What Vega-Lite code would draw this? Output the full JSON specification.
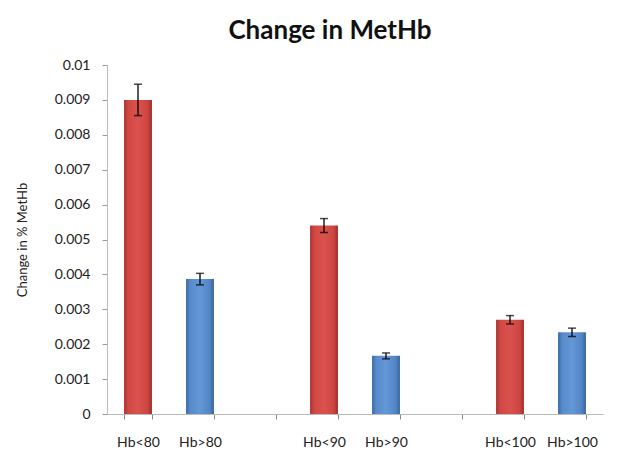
{
  "$schema": "https://vega.github.io/schema/vega-lite/v6.json",
  "width": 496,
  "height": 349,
  "padding": {"left": 16, "top": 18, "right": 30, "bottom": 4},
  "title": {
    "text": "Change in MetHb",
    "font": "Lato",
    "fontSize": 26,
    "color": "#111111",
    "offset": 14,
    "dx": -25
  },
  "data": {
    "values": [
      {"cat": "Hb<80", "side": "low", "val": 0.009, "lo": 0.00855, "hi": 0.00945},
      {"cat": "Hb>80", "side": "high", "val": 0.00387, "lo": 0.0037, "hi": 0.00403},
      {"cat": "Hb<90", "side": "low", "val": 0.0054, "lo": 0.0052, "hi": 0.0056},
      {"cat": "Hb>90", "side": "high", "val": 0.00167, "lo": 0.00158, "hi": 0.00175},
      {"cat": "Hb<100", "side": "low", "val": 0.0027, "lo": 0.00258, "hi": 0.00282},
      {"cat": "Hb>100", "side": "high", "val": 0.00234, "lo": 0.00222, "hi": 0.00246}
    ]
  },
  "encoding": {
    "x": {
      "field": "cat",
      "type": "nominal",
      "scale": {
        "domain": ["Hb<80", "Hb>80", " ", "Hb<90", "Hb>90", "  ", "Hb<100", "Hb>100"],
        "paddingInner": 0.55,
        "paddingOuter": 0.275
      },
      "axis": {
        "title": null,
        "labelAngle": 0,
        "labelFont": "Lato",
        "labelFontSize": 14,
        "labelColor": "#222222",
        "labelPadding": 16,
        "tickBand": "extent",
        "tickSize": 5,
        "tickColor": "#888888",
        "domainColor": "#bbbbbb"
      }
    }
  },
  "layer": [
    {
      "transform": [{"filter": "datum.side == 'low'"}],
      "mark": {
        "type": "bar",
        "fill": {
          "gradient": "linear", "x1": 0, "y1": 0, "x2": 1, "y2": 0,
          "stops": [
            {"offset": 0, "color": "#a9332f"},
            {"offset": 0.15, "color": "#d04844"},
            {"offset": 0.5, "color": "#db514d"},
            {"offset": 0.85, "color": "#cc4541"},
            {"offset": 1, "color": "#9c2e2b"}
          ]
        }
      },
      "encoding": {
        "y": {
          "field": "val",
          "type": "quantitative",
          "scale": {"domain": [0, 0.01]},
          "axis": {
            "title": "Change in % MetHb",
            "titleFont": "Lato",
            "titleFontSize": 13,
            "titleFontWeight": "normal",
            "titleColor": "#222222",
            "titlePadding": 25,
            "labelFont": "Lato",
            "labelFontSize": 14,
            "labelColor": "#222222",
            "labelPadding": 12,
            "format": "~g",
            "grid": false,
            "tickSize": 5,
            "tickColor": "#999999",
            "domainColor": "#bbbbbb"
          }
        }
      }
    },
    {
      "transform": [{"filter": "datum.side == 'high'"}],
      "mark": {
        "type": "bar",
        "fill": {
          "gradient": "linear", "x1": 0, "y1": 0, "x2": 1, "y2": 0,
          "stops": [
            {"offset": 0, "color": "#3a6aa3"},
            {"offset": 0.15, "color": "#568acb"},
            {"offset": 0.5, "color": "#6397d6"},
            {"offset": 0.85, "color": "#5285c5"},
            {"offset": 1, "color": "#36649a"}
          ]
        }
      },
      "encoding": {
        "y": {"field": "val", "type": "quantitative"}
      }
    },
    {
      "mark": {"type": "rule", "color": "#000000", "strokeWidth": 1.3},
      "encoding": {
        "y": {"field": "lo", "type": "quantitative"},
        "y2": {"field": "hi"}
      }
    },
    {
      "mark": {"type": "tick", "color": "#000000", "size": 8, "thickness": 1.5},
      "encoding": {
        "y": {"field": "lo", "type": "quantitative"}
      }
    },
    {
      "mark": {"type": "tick", "color": "#000000", "size": 8, "thickness": 1.5},
      "encoding": {
        "y": {"field": "hi", "type": "quantitative"}
      }
    }
  ],
  "config": {
    "view": {"stroke": null}
  }
}
